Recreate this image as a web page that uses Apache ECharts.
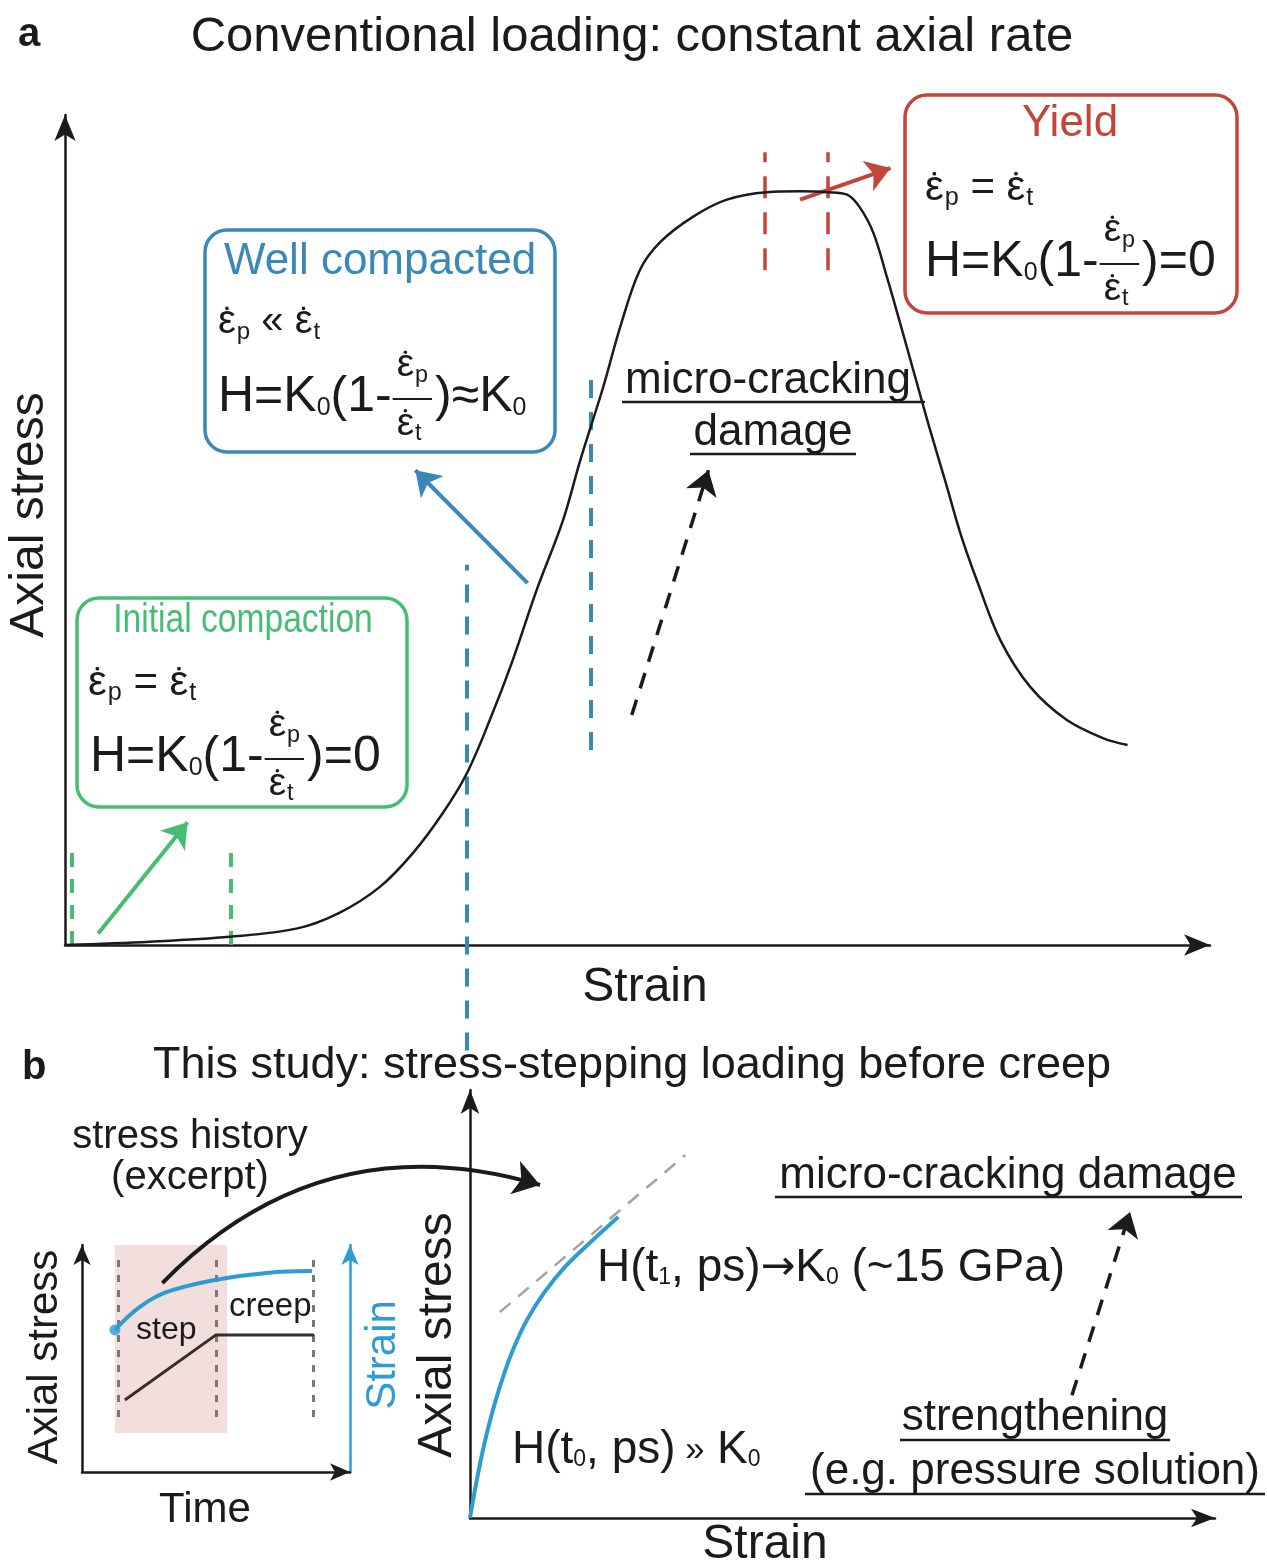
<!DOCTYPE html>
<html>
<head>
<meta charset="utf-8">
<script src="https://cdn.jsdelivr.net/npm/echarts@6/dist/echarts.min.js"></script>
<style>
  html, body { margin: 0; padding: 0; background: #fff; }
  #chart { width: 1267px; height: 1568px; }
</style>
</head>
<body>
<div id="chart"></div>
<script>
// panel a: conventional loading, strain / axial stress (arbitrary units, 0-100)
const aStrain = [0, 7.4, 14.4, 20.3, 24.0, 27.5, 30.4, 33.0, 35.1, 37.1, 39.1, 41.2, 43.5, 45.0, 47.0, 48.5, 50.2, 52.0, 54.8, 57.8, 61.3, 64.2, 66.6, 68.3, 69.4, 70.6, 71.8, 72.9, 74.2, 75.5, 76.9, 78.2, 79.7, 81.7, 84.3, 87.5, 90.7, 92.8]
const aStress = [0, 0.4, 1.0, 2.0, 3.9, 7.0, 11.1, 15.9, 20.7, 27.1, 34.3, 42.8, 51.2, 58.4, 67.2, 74.5, 81.3, 84.7, 87.7, 89.8, 90.7, 90.8, 90.7, 90.4, 88.9, 85.8, 80.4, 75.1, 68.7, 62.3, 55.8, 49.6, 43.7, 36.7, 31.1, 27.1, 24.9, 24.1]
// stage boundaries [strain, stressFrom, stressTo]
const aGreenGuides = [[0.6, 0, 12.0], [14.5, 0, 12.0]]
const aBlueGuides = [[35.1, -12.7, 45.8], [45.9, 23.5, 68.3]]
const aRedGuides = [[61.1, 81.3, 95.5], [66.6, 81.3, 95.5]]
// arrows [x1, y1, x2, y2]
const aGreenArrow = [2.9, 1.4, 10.7, 14.8]
const aBlueArrow = [40.4, 43.6, 30.6, 57.2]
const aRedArrow = [64.2, 89.8, 72.1, 93.6]
const aDamageArrow = [49.5, 27.7, 56.2, 57.2]

// panel b inset: stress history (time 0-100)
const insetStressTime = [16.0, 50.0, 86.6]
const insetStress = [31.7, 60.4, 60.4]
const insetStrainTime = [12.3, 21.6, 31.7, 49.6, 69.0, 85.8]
const insetStrain = [62.6, 72.7, 79.3, 84.6, 87.7, 88.5]
const insetGuides = [13.4, 50.0, 86.2]
const insetGuideRange = [24.2, 96.5]
const stepBand = [12.3, 17.2, 54.1, 100]

// panel b: strain / axial stress
const bStrain = [0, 0.81, 1.74, 2.82, 4.16, 5.77, 7.65, 9.93, 12.6, 16.1, 19.9]
const bStress = [0, 7.9, 15.9, 23.6, 31.5, 39.3, 46.3, 52.6, 58.4, 64.3, 70.3]
const bTangent = [4.0, 48.1, 28.9, 84.8]
const bDamageArrow = [80.8, 28.7, 88.6, 71.5]
const bHistoryArrow = [-41.3, 54.9, 9.4, 77.8]

const INK = '#1c1a1a'
const GREEN = '#46bd72'
const BLUE = '#3a88b8'
const RED = '#c4463a'
const CYAN = '#2f9bd3'
const FONT = '"Liberation Sans", Arial, sans-serif'
const SYM = '"DejaVu Sans", sans-serif'

const ctx = document.createElement('canvas').getContext('2d')
const tw = (s, size, fam = FONT) => { ctx.font = size + 'px ' + fam; return ctx.measureText(s).width }

const gfx = []
function text(x, y, s, size, color, o = {}) {
  gfx.push({
    type: 'text', x, y, rotation: o.rot || 0, scaleX: o.sx || 1, z: 100, silent: true,
    style: { text: s, font: (o.bold ? 'bold ' : '') + size + 'px ' + (o.fam || FONT), fill: color, textAlign: o.align || 'left', textVerticalAlign: 'middle' }
  })
}
function seg(x1, y1, x2, y2, color, w) {
  gfx.push({ type: 'line', z: 100, silent: true, shape: { x1, y1, x2, y2 }, style: { stroke: color, lineWidth: w } })
}
function box(x, y, w, h, color) {
  gfx.push({ type: 'rect', z: 100, silent: true, shape: { x, y, width: w, height: h, r: 22 }, style: { fill: 'rgba(255,255,255,0)', stroke: color, lineWidth: 3.5 } })
}
// epsilon with a rate dot and a subscript
function eps(x, y, size, sub, color) {
  text(x, y, 'ε', size, color)
  const w = tw('ε', size)
  gfx.push({ type: 'circle', z: 100, silent: true, shape: { cx: x + w * 0.5, cy: y - size * 0.34, r: Math.max(1.6, size * 0.045) }, style: { fill: color } })
  const ss = size * 0.6
  text(x + w + 1, y + size * 0.25, sub, ss, color)
  return w + 1 + tw(sub, ss)
}
function eqRate(x, y, size, color, rel) {
  let cx = x
  cx += eps(cx, y, size, 'p', color)
  const r = ' ' + rel + ' '
  text(cx, y, r, size, color)
  cx += tw(r, size)
  eps(cx, y, size, 't', color)
}
function eqH(x, y, size, color, tail) {
  let cx = x
  const put = (s, k = 1, dy = 0) => { text(cx, y + dy * size, s, size * k, color); cx += tw(s, size * k) }
  put('H=K'); put('0', 0.5, 0.22); put('(1-')
  const fs = size * 0.78
  const fw = tw('ε', fs) + tw('p', fs * 0.6) + 10
  eps(cx + 5, y - size * 0.55 - fs * 0.1, fs, 'p', color)
  seg(cx + 1, y + 2, cx + fw, y + 2, color, 2)
  eps(cx + 5, y + size * 0.62 - fs * 0.1, fs, 't', color)
  cx += fw + 3
  put(')')
  if (tail === 'K0') { put('≈K'); put('0', 0.5, 0.22) } else put('=0')
}
function seq(x, y, parts, size, color) {
  let cx = x
  parts.forEach(p => {
    if (typeof p === 'string') { text(cx, y, p, size, color); cx += tw(p, size) }
    else {
      const s = size * (p.k || 0.5)
      text(cx, y + size * (p.dy ?? 0.22), p.t, s, color, { fam: p.fam })
      cx += tw(p.t, s, p.fam)
    }
  })
}

// panel a texts
text(18, 35, 'a', 40, INK, { bold: true })
text(632, 37, 'Conventional loading: constant axial rate', 49, INK, { align: 'center' })
text(30, 515, 'Axial stress', 48, INK, { align: 'center', rot: Math.PI / 2 })
text(645, 988, 'Strain', 48, INK, { align: 'center' })
text(768, 381, 'micro-cracking', 44, INK, { align: 'center' })
seg(622, 402, 925, 402, INK, 2.5)
text(773, 433, 'damage', 44, INK, { align: 'center' })
seg(690, 454, 856, 454, INK, 2.5)

box(77, 598, 330, 209, GREEN)
text(243, 621, 'Initial compaction', 40, GREEN, { align: 'center', sx: 0.84 })
eqRate(88, 683, 42, INK, '=')
eqH(90, 757, 50, INK, '0')

box(205, 230, 350, 222, BLUE)
text(380, 262, 'Well compacted', 44, BLUE, { align: 'center' })
eqRate(218, 322, 40, INK, '«')
eqH(218, 397, 50, INK, 'K0')

box(905, 95, 332, 218, RED)
text(1070, 124, 'Yield', 44, RED, { align: 'center' })
eqRate(925, 188, 42, INK, '=')
eqH(925, 262, 50, INK, '0')

// panel b texts
text(22, 1068, 'b', 40, INK, { bold: true })
text(632, 1066, 'This study: stress-stepping loading before creep', 45, INK, { align: 'center' })
text(190, 1137, 'stress history', 40, INK, { align: 'center' })
text(190, 1178, '(excerpt)', 40, INK, { align: 'center' })
text(45, 1357, 'Axial stress', 42, INK, { align: 'center', rot: Math.PI / 2 })
text(383, 1355, 'Strain', 42, CYAN, { align: 'center', rot: Math.PI / 2 })
text(205, 1510, 'Time', 42, INK, { align: 'center' })
text(136, 1330, 'step', 32, INK)
text(229, 1307, 'creep', 33, INK)
text(438, 1335, 'Axial stress', 48, INK, { align: 'center', rot: Math.PI / 2 })
text(765, 1545, 'Strain', 48, INK, { align: 'center' })
seq(597, 1268, ['H(t', { t: '1' }, ', ps)', { t: '→', k: 0.9, dy: 0, fam: SYM }, 'K', { t: '0' }, ' (~15 GPa)'], 46, INK)
seq(512, 1450, ['H(t', { t: '0' }, ', ps)', { t: ' »', k: 0.75, dy: 0 }, ' K', { t: '0' }], 46, INK)
text(1008, 1176, 'micro-cracking damage', 44, INK, { align: 'center' })
seg(775, 1197, 1242, 1197, INK, 2.5)
text(1035, 1418, 'strengthening', 44, INK, { align: 'center' })
seg(900, 1440, 1170, 1440, INK, 2.5)
text(1035, 1472, '(e.g. pressure solution)', 44, INK, { align: 'center' })
seg(805, 1494, 1265, 1494, INK, 2.5)

const pair = (xs, ys) => xs.map((x, i) => [x, ys[i]])
const guides = g => g.map(v => ({ coords: [[v[0], v[1]], [v[0], v[2]]] }))
const seg2 = a => ({ coords: [[a[0], a[1]], [a[2], a[3]]] })

const bare = { axisTick: { show: false }, axisLabel: { show: false }, splitLine: { show: false } }
const axis = (gridIndex, color, w, size, extra = {}) => ({
  gridIndex, type: 'value', min: 0, max: 100, ...bare, ...extra,
  axisLine: { show: true, onZero: false, lineStyle: { color, width: w }, symbol: ['none', 'arrow'], symbolSize: size }
})

const guideSeries = (xi, yi, data, color, width, dash) => ({
  type: 'lines', coordinateSystem: 'cartesian2d', xAxisIndex: xi, yAxisIndex: yi, clip: false, silent: true,
  symbol: 'none', data, lineStyle: { color, width, type: dash, opacity: 1, curveness: 0 }
})
const arrowSeries = (xi, yi, a, color, width, dash, size, curveness = 0) => ({
  type: 'lines', coordinateSystem: 'cartesian2d', xAxisIndex: xi, yAxisIndex: yi, clip: false, silent: true,
  symbol: ['none', 'arrow'], symbolSize: size, data: [seg2(a)],
  lineStyle: { color, width, type: dash, opacity: 1, curveness }
})

const chart = echarts.init(document.getElementById('chart'))
chart.setOption({
  animation: false,
  backgroundColor: '#fff',
  grid: [
    { left: 65, top: 115, width: 1145, height: 830 },
    { left: 82, top: 1245, width: 268, height: 227 },
    { left: 470, top: 1090, width: 745, height: 428 }
  ],
  xAxis: [
    axis(0, INK, 2.5, [16, 26]),
    axis(1, INK, 2.5, [13, 20]),
    axis(2, INK, 2.5, [14, 24])
  ],
  yAxis: [
    axis(0, INK, 2.5, [16, 26]),
    axis(1, INK, 2.5, [13, 20]),
    axis(1, CYAN, 2.5, [13, 20], { position: 'right' }),
    axis(2, INK, 2.5, [14, 24])
  ],
  series: [
    // panel a
    { type: 'line', xAxisIndex: 0, yAxisIndex: 0, data: pair(aStrain, aStress), smooth: 0.35, symbol: 'none', silent: true, lineStyle: { color: INK, width: 2.5 } },
    guideSeries(0, 0, guides(aGreenGuides), GREEN, 4, [14, 12]),
    guideSeries(0, 0, guides(aBlueGuides), BLUE, 4, [18, 14]),
    guideSeries(0, 0, guides(aRedGuides), RED, 3.5, [22, 14]),
    arrowSeries(0, 0, aGreenArrow, GREEN, 4, 'solid', 24),
    arrowSeries(0, 0, aBlueArrow, BLUE, 4, 'solid', 24),
    arrowSeries(0, 0, aRedArrow, RED, 4, 'solid', 24),
    arrowSeries(0, 0, aDamageArrow, INK, 3.5, [16, 12], 24),
    // panel b inset
    {
      type: 'line', xAxisIndex: 1, yAxisIndex: 1, data: [], z: 1, silent: true,
      markArea: { silent: true, itemStyle: { color: '#f2dedc' }, data: [[{ xAxis: stepBand[0], yAxis: stepBand[1] }, { xAxis: stepBand[2], yAxis: stepBand[3] }]] }
    },
    guideSeries(1, 1, insetGuides.map(x => ({ coords: [[x, insetGuideRange[0]], [x, insetGuideRange[1]]] })), '#7d7676', 3, [7, 8]),
    { type: 'line', xAxisIndex: 1, yAxisIndex: 1, data: pair(insetStressTime, insetStress), symbol: 'none', silent: true, lineStyle: { color: '#3a2c2c', width: 3 } },
    { type: 'line', xAxisIndex: 1, yAxisIndex: 2, data: pair(insetStrainTime, insetStrain), smooth: 0.4, symbol: 'none', silent: true, lineStyle: { color: CYAN, width: 4 } },
    { type: 'scatter', xAxisIndex: 1, yAxisIndex: 2, data: [[insetStrainTime[0], insetStrain[0]]], symbolSize: 11, silent: true, itemStyle: { color: CYAN } },
    // panel b right
    guideSeries(2, 3, [seg2(bTangent)], '#a3a3a3', 2.5, [14, 10]),
    { type: 'line', xAxisIndex: 2, yAxisIndex: 3, data: pair(bStrain, bStress), smooth: 0.4, symbol: 'none', silent: true, lineStyle: { color: CYAN, width: 4 } },
    arrowSeries(2, 3, bDamageArrow, INK, 3.5, [16, 12], 24),
    arrowSeries(2, 3, bHistoryArrow, INK, 4, 'solid', 26, 0.3)
  ],
  graphic: { elements: gfx }
})
</script>
</body>
</html>
